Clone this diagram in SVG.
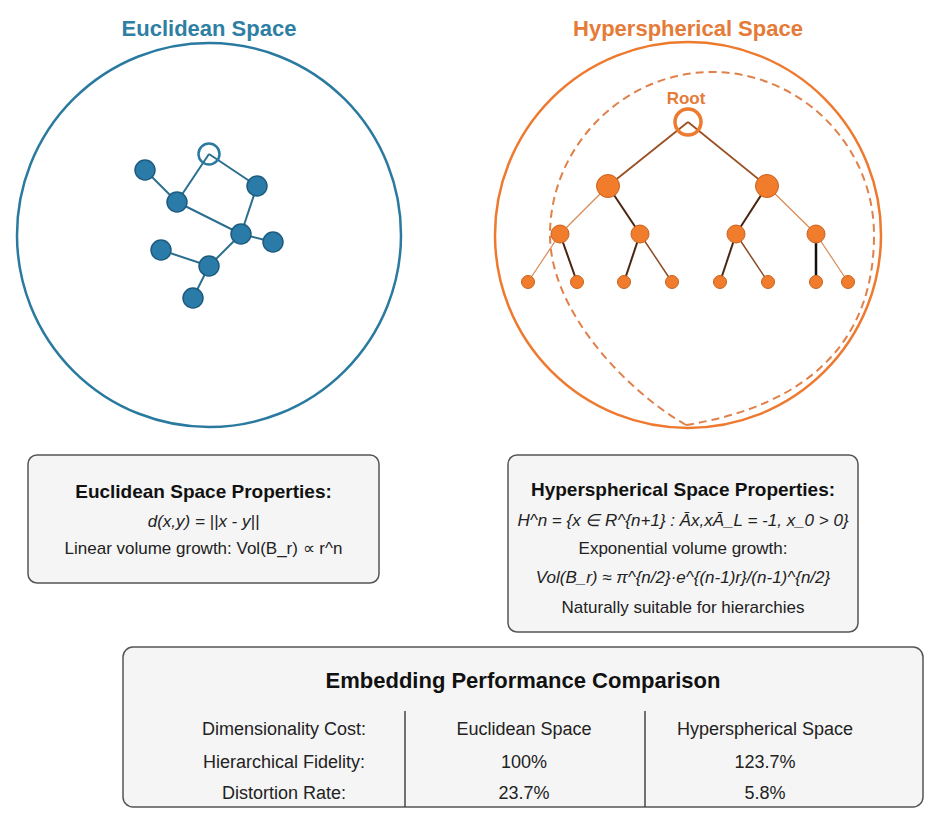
<svg xmlns="http://www.w3.org/2000/svg" width="935" height="823" viewBox="0 0 935 823">
<style>
text{font-family:"Liberation Sans",Arial,sans-serif}
.ttl{font-size:22px;font-weight:bold;text-anchor:middle}
.bt{font-size:19px;font-weight:bold;text-anchor:middle;fill:#111}
.tx{font-size:17px;text-anchor:middle;fill:#222}
.it{font-style:italic}
.tb{font-size:18px;text-anchor:middle;fill:#222}
.box{fill:#f5f5f5;stroke:#555;stroke-width:1.5}
.eedge{stroke:#2b6e8e;stroke-width:2;fill:none}
.enode{fill:#2a7ba8;stroke:#1d5b80;stroke-width:1.5}
.r1{stroke:#9a4f22;stroke-width:1.8}
.lt{stroke:#d98a55;stroke-width:1.2}
.dk{stroke:#4a2410;stroke-width:2}
.md{stroke:#8b4a20;stroke-width:1.5}
.bk{stroke:#111;stroke-width:2.5}
.tnode{fill:#f07c2c;stroke:#c9621f;stroke-width:1}
</style>
<rect width="935" height="823" fill="#fff"/>

<g id="euclidean-panel">
<text class="ttl" x="209" y="36" fill="#2e7fa3">Euclidean Space</text>
<circle cx="209" cy="235" r="192" fill="none" stroke="#2a7aa0" stroke-width="2.5"/>
</g>

<g id="hyper-panel">
<text class="ttl" x="688" y="36" fill="#e57b37">Hyperspherical Space</text>
<circle cx="688" cy="235" r="193" fill="none" stroke="#ee7a30" stroke-width="2.5"/>
<path d="M686 425 C625 390 550 310 550 235 C550 145 625 72 712 72 C800 72 874 145 874 235 C874 340 810 405 686 425" fill="none" stroke="#e0804a" stroke-width="2" stroke-dasharray="8 5"/>
<text x="686" y="104" font-size="17" font-weight="bold" text-anchor="middle" fill="#e57b37">Root</text>
</g>

<g id="connectors">
<g id="euclid-edges" class="eedge">
<line x1="209" y1="154" x2="177" y2="202"/>
<line x1="209" y1="154" x2="257" y2="186"/>
<line x1="145" y1="170" x2="177" y2="202"/>
<line x1="177" y1="202" x2="241" y2="234"/>
<line x1="257" y1="186" x2="241" y2="234"/>
<line x1="241" y1="234" x2="273" y2="242"/>
<line x1="241" y1="234" x2="209" y2="266"/>
<line x1="161" y1="250" x2="209" y2="266"/>
<line x1="209" y1="266" x2="193" y2="298"/>
</g>
<g id="tree-edges" fill="none">
<line class="r1" x1="688" y1="122" x2="608" y2="186"/>
<line class="r1" x1="688" y1="122" x2="767" y2="186"/>
<line class="lt" x1="608" y1="186" x2="560" y2="234"/>
<line class="dk" x1="608" y1="186" x2="640" y2="234"/>
<line class="dk" x1="767" y1="186" x2="736" y2="234"/>
<line class="lt" x1="767" y1="186" x2="816" y2="234"/>
<line class="lt" x1="560" y1="234" x2="528" y2="282"/>
<line class="dk" x1="560" y1="234" x2="577" y2="282"/>
<line class="dk" x1="640" y1="234" x2="624" y2="282"/>
<line class="md" x1="640" y1="234" x2="672" y2="282"/>
<line class="dk" x1="736" y1="234" x2="720" y2="282"/>
<line class="md" x1="736" y1="234" x2="768" y2="282"/>
<line class="bk" x1="816" y1="234" x2="816" y2="282"/>
<line class="lt" x1="816" y1="234" x2="848" y2="282"/>
</g>
</g>

<g id="euclid-nodes">
<circle id="e-root" cx="209" cy="154" r="10.5" fill="none" stroke="#2a7aa0" stroke-width="2.5"/>
<circle id="e-a" class="enode" cx="145" cy="170" r="10"/>
<circle id="e-b" class="enode" cx="177" cy="202" r="10"/>
<circle id="e-c" class="enode" cx="257" cy="186" r="10"/>
<circle id="e-d" class="enode" cx="241" cy="234" r="10"/>
<circle id="e-e" class="enode" cx="273" cy="242" r="10"/>
<circle id="e-f" class="enode" cx="161" cy="250" r="10"/>
<circle id="e-g" class="enode" cx="209" cy="266" r="10"/>
<circle id="e-h" class="enode" cx="193" cy="298" r="10"/>
</g>

<g id="tree-nodes">
<circle id="t-root" cx="688" cy="122" r="13" fill="none" stroke="#ee7a30" stroke-width="3.5"/>
<circle id="t-l1a" class="tnode" cx="608" cy="186" r="11.5"/>
<circle id="t-l1b" class="tnode" cx="767" cy="186" r="11.5"/>
<circle id="t-l2a" class="tnode" cx="560" cy="234" r="9"/>
<circle id="t-l2b" class="tnode" cx="640" cy="234" r="9"/>
<circle id="t-l2c" class="tnode" cx="736" cy="234" r="9"/>
<circle id="t-l2d" class="tnode" cx="816" cy="234" r="9"/>
<circle id="t-l3a" class="tnode" cx="528" cy="282" r="6.5"/>
<circle id="t-l3b" class="tnode" cx="577" cy="282" r="6.5"/>
<circle id="t-l3c" class="tnode" cx="624" cy="282" r="6.5"/>
<circle id="t-l3d" class="tnode" cx="672" cy="282" r="6.5"/>
<circle id="t-l3e" class="tnode" cx="720" cy="282" r="6.5"/>
<circle id="t-l3f" class="tnode" cx="768" cy="282" r="6.5"/>
<circle id="t-l3g" class="tnode" cx="816" cy="282" r="6.5"/>
<circle id="t-l3h" class="tnode" cx="848" cy="282" r="6.5"/>
</g>

<g id="euclid-props">
<rect class="box" x="28" y="455" width="351" height="128" rx="9"/>
<text class="bt" x="203.5" y="498">Euclidean Space Properties:</text>
<text class="tx it" x="203.5" y="527">d(x,y) = ||x - y||</text>
<text class="tx" x="203.5" y="554">Linear volume growth: Vol(B_r) ∝ r^n</text>
</g>

<g id="hyper-props">
<rect class="box" x="508" y="455" width="350" height="177" rx="9"/>
<text class="bt" x="683" y="496">Hyperspherical Space Properties:</text>
<text class="tx it" x="683" y="526">H^n = {x ∈ R^{n+1} : Āx,xĀ_L = -1, x_0 &gt; 0}</text>
<text class="tx" x="683" y="554">Exponential volume growth:</text>
<text class="tx it" x="683" y="583">Vol(B_r) ≈ π^{n/2}·e^{(n-1)r}/(n-1)^{n/2}</text>
<text class="tx" x="683" y="613">Naturally suitable for hierarchies</text>
</g>

<g id="comparison">
<rect class="box" x="123" y="647" width="800" height="160" rx="10"/>
<text x="523" y="688" font-size="22" font-weight="bold" text-anchor="middle" fill="#111">Embedding Performance Comparison</text>
<line x1="405" y1="711" x2="405" y2="807" stroke="#444" stroke-width="1.5"/>
<line x1="645" y1="711" x2="645" y2="807" stroke="#444" stroke-width="1.5"/>
<text class="tb" x="284" y="735">Dimensionality Cost:</text>
<text class="tb" x="524" y="735">Euclidean Space</text>
<text class="tb" x="765" y="735">Hyperspherical Space</text>
<text class="tb" x="284" y="768">Hierarchical Fidelity:</text>
<text class="tb" x="524" y="768">100%</text>
<text class="tb" x="765" y="768">123.7%</text>
<text class="tb" x="284" y="799">Distortion Rate:</text>
<text class="tb" x="524" y="799">23.7%</text>
<text class="tb" x="765" y="799">5.8%</text>
</g>
</svg>
